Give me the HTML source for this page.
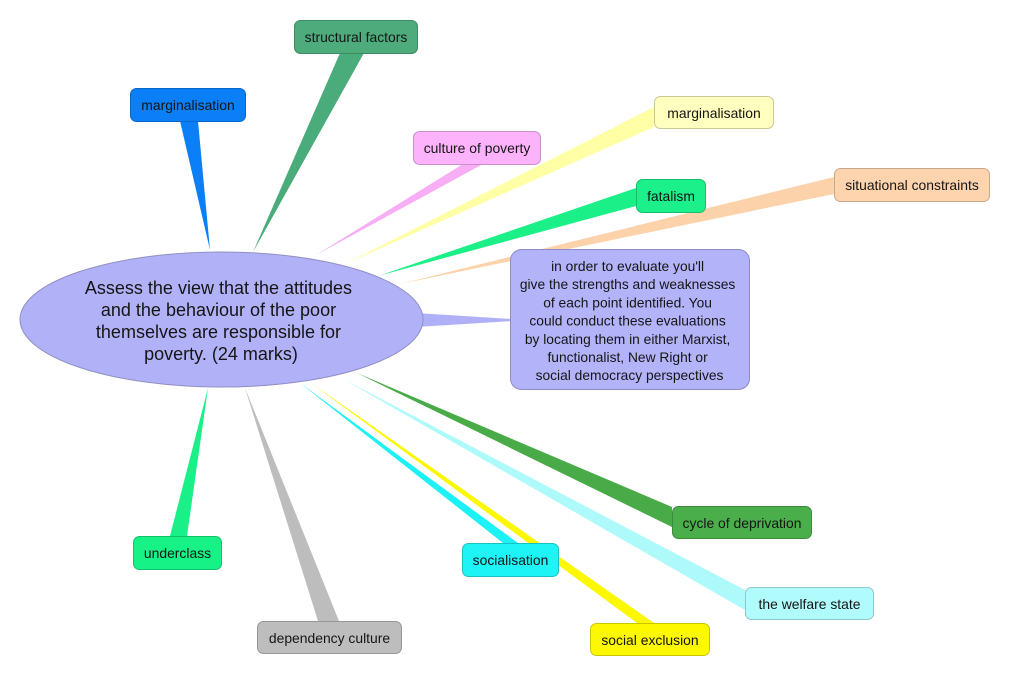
<!DOCTYPE html>
<html>
<head>
<meta charset="utf-8">
<style>
  html, body { margin:0; padding:0; background:#ffffff; }
  body { width:1009px; height:676px; overflow:hidden; }
  svg { display:block; }
  text { font-family:"Liberation Sans", Arial, sans-serif; fill:#151515; }
</style>
</head>
<body>
<svg width="1009" height="676" viewBox="0 0 1009 676" xmlns="http://www.w3.org/2000/svg">
  <!-- tapered connectors -->
  <polygon points="253,252 340,53 364,53" fill="#4aab7b"/>
  <polygon points="210,250 180,121 198,121" fill="#0b7ff7"/>
  <polygon points="316,255 463,164 483,164" fill="#f7aef5"/>
  <polygon points="345,264 654,107 654,127" fill="#ffffa6"/>
  <polygon points="378,276 636,188 636,206" fill="#1bef88"/>
  <polygon points="400,284 834,177 834,194" fill="#fcd2aa"/>
  <polygon points="208,388 170,536 187,536" fill="#1af088"/>
  <polygon points="245,388 318,621 339,621" fill="#bdbdbd"/>
  <polygon points="311,383 637,623 654,623" fill="#fbf800"/>
  <polygon points="300,383 503,543 518,543" fill="#1cf1f6"/>
  <polygon points="345,380 745,590 745,610" fill="#aefafa"/>
  <polygon points="357,373 672,507 672,527" fill="#48ab48"/>
  <polygon points="416,313 416,327 512,321 512,319" fill="#b0b0f8"/>

  <!-- central ellipse -->
  <ellipse cx="221.5" cy="319.5" rx="201.5" ry="67.5" fill="#b1b1f8" stroke="#8f8fc4" stroke-width="1"/>
  <text font-size="18" text-anchor="middle">
    <tspan x="221" y="294">Assess the view that the attitudes</tspan>
    <tspan x="221" y="316">and the behaviour of the poor</tspan>
    <tspan x="221" y="338">themselves are responsible for</tspan>
    <tspan x="221" y="360">poverty. (24 marks)</tspan>
  </text>

  <!-- note box -->
  <rect x="510.5" y="249.5" width="239" height="140" rx="11" fill="#b3b3fa" stroke="#8c8cc8" stroke-width="1"/>
  <text font-size="13.8" text-anchor="middle">
    <tspan x="629.5" y="271">in order to evaluate you'll</tspan>
    <tspan x="629.5" y="289.2">give the strengths and weaknesses</tspan>
    <tspan x="629.5" y="307.4">of each point identified. You</tspan>
    <tspan x="629.5" y="325.6">could conduct these evaluations</tspan>
    <tspan x="629.5" y="343.8">by locating them in either Marxist,</tspan>
    <tspan x="629.5" y="362">functionalist, New Right or</tspan>
    <tspan x="629.5" y="380.2">social democracy perspectives</tspan>
  </text>

  <!-- nodes -->
  <g font-size="13.9" text-anchor="middle">
    <rect x="294.5" y="20.5" width="123" height="33" rx="6" fill="#4dab7c" stroke="#3d8a63"/>
    <text x="356" y="42">structural factors</text>

    <rect x="130.5" y="88.5" width="115" height="33" rx="6" fill="#0a7ff7" stroke="#0866c6"/>
    <text x="188" y="110">marginalisation</text>

    <rect x="413.5" y="131.5" width="127" height="33" rx="6" fill="#fdb3fb" stroke="#c98fc8"/>
    <text x="477" y="153">culture of poverty</text>

    <rect x="654.5" y="96.5" width="119" height="32" rx="6" fill="#ffffbf" stroke="#c8c896"/>
    <text x="714" y="118">marginalisation</text>

    <rect x="636.5" y="179.5" width="69" height="33" rx="6" fill="#1bf08a" stroke="#15bf6e"/>
    <text x="671" y="201">fatalism</text>

    <rect x="834.5" y="168.5" width="155" height="33" rx="6" fill="#fdd4ae" stroke="#c8a88a"/>
    <text x="912" y="190">situational constraints</text>

    <rect x="133.5" y="536.5" width="88" height="33" rx="6" fill="#17f286" stroke="#12c06a"/>
    <text x="177.5" y="558">underclass</text>

    <rect x="257.5" y="621.5" width="144" height="32" rx="6" fill="#bdbdbd" stroke="#979797"/>
    <text x="329.5" y="643">dependency culture</text>

    <rect x="462.5" y="543.5" width="96" height="33" rx="6" fill="#1ef3f5" stroke="#18c2c4"/>
    <text x="510.5" y="565">socialisation</text>

    <rect x="590.5" y="623.5" width="119" height="32" rx="6" fill="#fcf800" stroke="#c9c600"/>
    <text x="650" y="645">social exclusion</text>

    <rect x="745.5" y="587.5" width="128" height="32" rx="6" fill="#b0fbfb" stroke="#8dc8c8"/>
    <text x="809.5" y="609">the welfare state</text>

    <rect x="672.5" y="506.5" width="139" height="32" rx="6" fill="#4aae4a" stroke="#3b8b3b"/>
    <text x="742" y="528">cycle of deprivation</text>
  </g>
</svg>
</body>
</html>
